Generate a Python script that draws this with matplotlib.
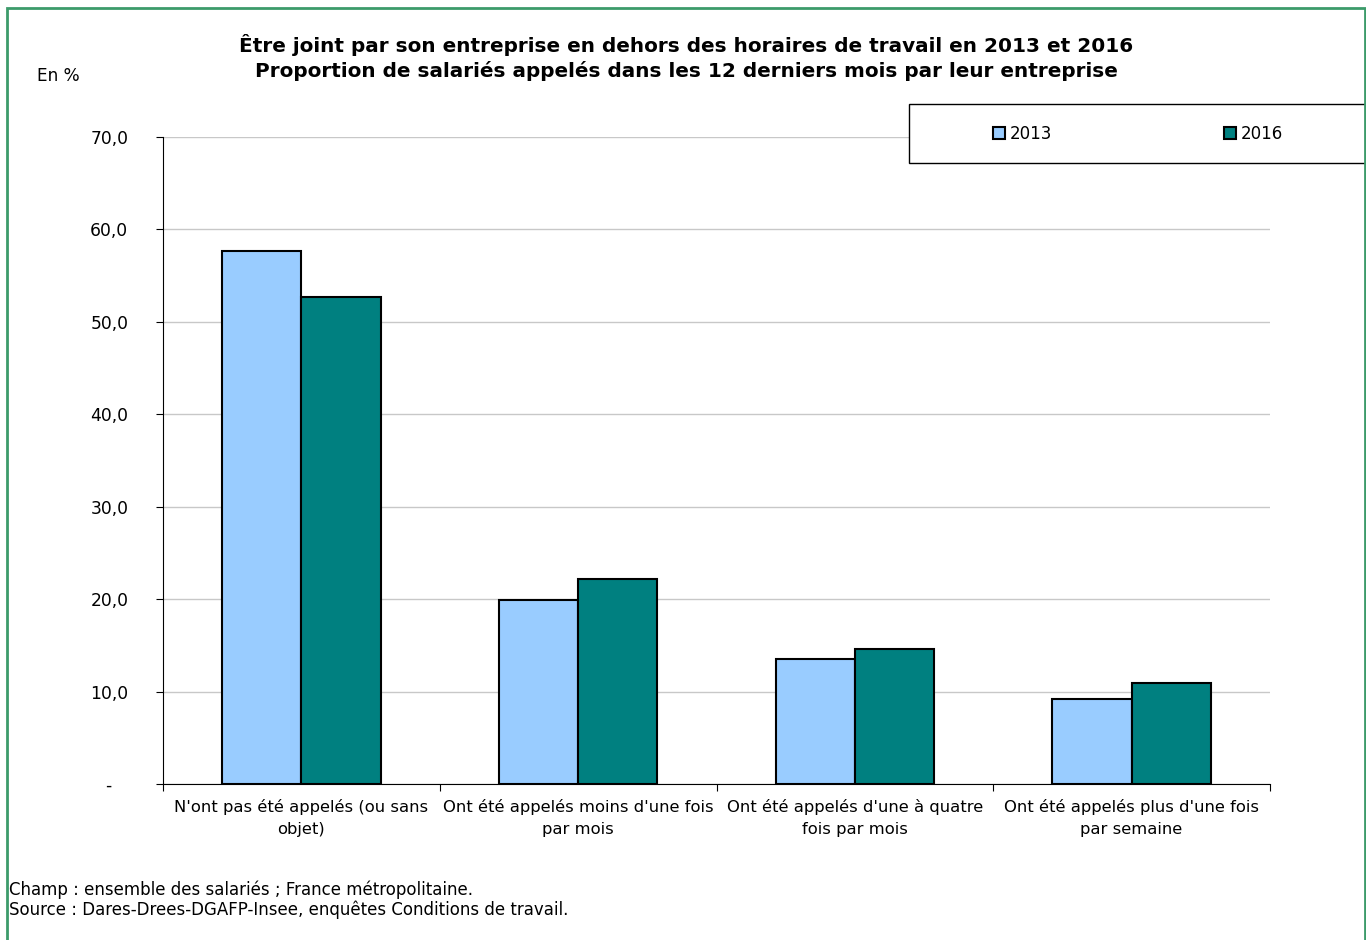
import matplotlib
matplotlib.use("Agg")
import matplotlib.pyplot as plt
import numpy as np
from matplotlib.patches import Rectangle

categories = ["N'ont pas été appelés (ou sans\nobjet)",
              "Ont été appelés moins d'une fois\npar mois",
              "Ont été appelés d'une à quatre\nfois par mois",
              "Ont été appelés plus d'une fois\npar semaine"]
v2013 = [57.7, 19.9, 13.5, 9.2]
v2016 = [52.7, 22.2, 14.6, 10.9]
years = ["2013", "2016"]
yticks = [0, 10, 20, 30, 40, 50, 60, 70]
ytick_labels = ["-   ", "10,0", "20,0", "30,0", "40,0", "50,0", "60,0", "70,0"]

plt.rcParams['font.family'] = ['DejaVu Sans']

fig = plt.figure(figsize=(13.66, 9.40), dpi=100)
ax = fig.add_axes([163/1366, 1-784/940, (1270-163)/1366, (784-137)/940])

x = np.arange(len(categories))
w = 0.286
ax.bar(x - w/2, v2013, w, color='#99ccff', edgecolor='black', linewidth=1.5, label=years[0], zorder=3)
ax.bar(x + w/2, v2016, w, color='#008080', edgecolor='black', linewidth=1.5, label=years[1], zorder=3)

ax.set_xlim(-0.5, len(categories) - 0.5)
ax.set_ylim(0, 70)
ax.set_yticks(yticks)
ax.set_yticklabels(ytick_labels, fontsize=12.3)
ax.yaxis.grid(True, color='#c8c8c8', linewidth=1, zorder=0)
ax.set_xticks(np.arange(len(categories) + 1) - 0.5)
ax.set_xticklabels([])
ax.set_xticks(x, minor=True)
ax.set_xticklabels(categories, minor=True, fontsize=11.8, linespacing=1.55)
ax.tick_params(axis='x', which='minor', length=0, pad=11)
ax.tick_params(axis='x', which='major', length=5, direction='out')
ax.tick_params(axis='y', length=5, direction='out', pad=20)
ax.spines['top'].set_visible(False)
ax.spines['right'].set_visible(False)

fig.text(686/1366, 1 - 45/940, "Être joint par son entreprise en dehors des horaires de travail en 2013 et 2016",
         ha='center', va='center', fontsize=14.4, fontweight='bold')
fig.text(686/1366, 1 - 71/940, "Proportion de salariés appelés dans les 12 derniers mois par leur entreprise",
         ha='center', va='center', fontsize=14.4, fontweight='bold')
fig.text(37/1366, 1 - 76/940, "En %", ha='left', va='center', fontsize=12.2)

# legend box
fig.patches.append(Rectangle((909/1366, 1 - 163/940), (1380-909)/1366, 59/940,
                             transform=fig.transFigure, facecolor='white',
                             edgecolor='black', linewidth=1, zorder=5))
leg = fig.legend(loc='center', bbox_to_anchor=(1138/1366, 1 - 134/940), ncol=2,
                 frameon=False, fontsize=12, handlelength=0.7, handleheight=0.7,
                 handletextpad=0.3, columnspacing=10.3)
leg.set_zorder(6)

fig.text(9/1366, 1 - 890/940, "Champ : ensemble des salariés ; France métropolitaine.",
         ha='left', va='center', fontsize=12)
fig.text(9/1366, 1 - 910/940, "Source : Dares-Drees-DGAFP-Insee, enquêtes Conditions de travail.",
         ha='left', va='center', fontsize=12)

# outer green frame
fig.patches.append(Rectangle((7/1366, -0.01), (1365-7)/1366, 1 - 8/940 + 0.01,
                             transform=fig.transFigure, fill=False,
                             edgecolor='#3c9b6a', linewidth=2, zorder=10))

fig.savefig("out.png", dpi=100)
